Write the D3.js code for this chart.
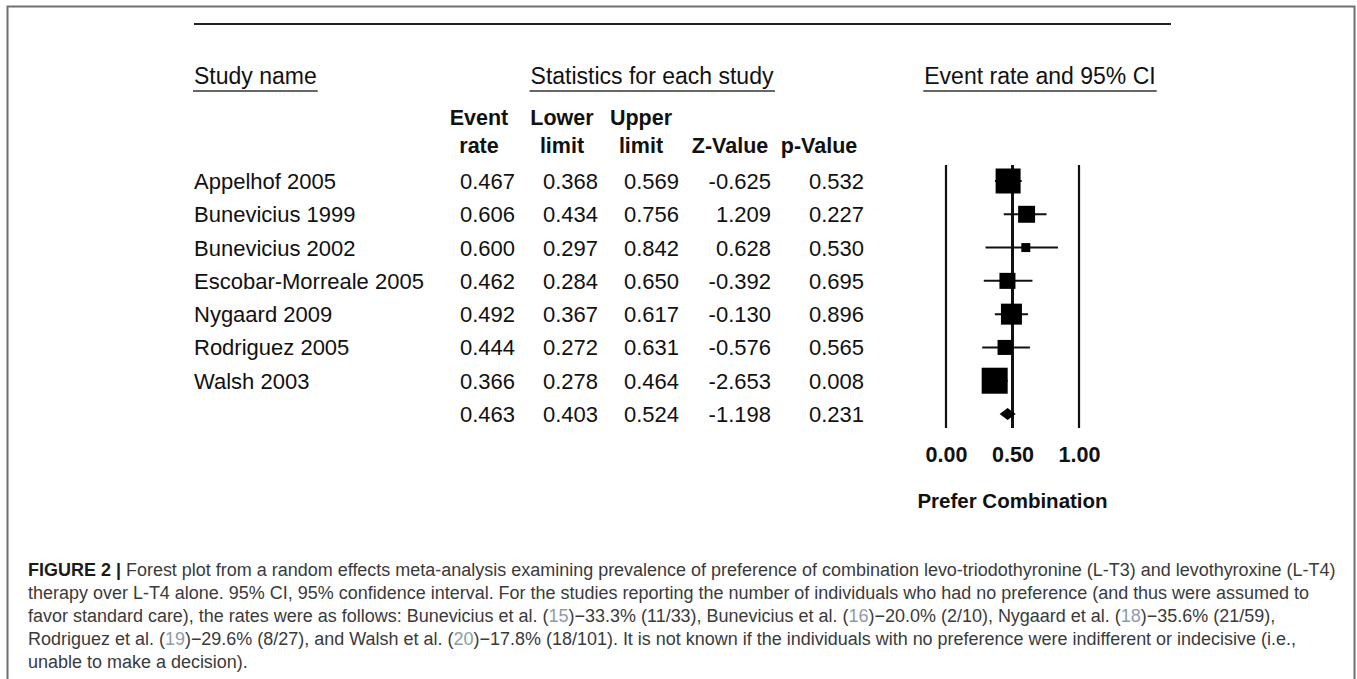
<!DOCTYPE html>
<html>
<head>
<meta charset="utf-8">
<script src="https://cdn.jsdelivr.net/npm/d3@7/dist/d3.min.js"></script>
<style>
  html, body { margin: 0; padding: 0; background: #fff; }
  svg { display: block; }
</style>
</head>
<body>
<script>
// ---- Study data ----
const studies    = ["Appelhof 2005", "Bunevicius 1999", "Bunevicius 2002", "Escobar-Morreale 2005",
                    "Nygaard 2009", "Rodriguez 2005", "Walsh 2003"];
const eventRate  = [0.467, 0.606, 0.600, 0.462, 0.492, 0.444, 0.366];
const lowerLimit = [0.368, 0.434, 0.297, 0.284, 0.367, 0.272, 0.278];
const upperLimit = [0.569, 0.756, 0.842, 0.650, 0.617, 0.631, 0.464];
const zValue     = [-0.625, 1.209, 0.628, -0.392, -0.130, -0.576, -2.653];
const pValue     = [0.532, 0.227, 0.530, 0.695, 0.896, 0.565, 0.008];
const relWeight  = [24.1, 11.1, 3.1, 9.9, 17.0, 8.7, 26.1];   // random-effects weight, %

// pooled (random effects) estimate
const pooledRate  = 0.463;
const pooledLower = 0.403;
const pooledUpper = 0.524;
const pooledZ     = -1.198;
const pooledP     = 0.231;

const axisTicks  = [0, 0.5, 1];
const axisTitle  = "Prefer Combination";

const captionLines = [
  [{t: "FIGURE 2 | ", b: true}, {t: "Forest plot from a random effects meta-analysis examining prevalence of preference of combination levo-triodothyronine (L-T3) and levothyroxine (L-T4)"}],
  [{t: "therapy over L-T4 alone. 95% CI, 95% confidence interval. For the studies reporting the number of individuals who had no preference (and thus were assumed to"}],
  [{t: "favor standard care), the rates were as follows: Bunevicius et al. ("}, {t: "15", c: true}, {t: ")\u221233.3% (11/33), Bunevicius et al. ("}, {t: "16", c: true}, {t: ")\u221220.0% (2/10), Nygaard et al. ("}, {t: "18", c: true}, {t: ")\u221235.6% (21/59),"}],
  [{t: "Rodriguez et al. ("}, {t: "19", c: true}, {t: ")\u221229.6% (8/27), and Walsh et al. ("}, {t: "20", c: true}, {t: ")\u221217.8% (18/101). It is not known if the individuals with no preference were indifferent or indecisive (i.e.,"}],
  [{t: "unable to make a decision)."}]
];

// ---- Layout ----
const W = 1357, H = 679;
const FONT = "'Liberation Sans', Arial, Helvetica, sans-serif";

const svg = d3.select("body").append("svg")
  .attr("width", W).attr("height", H)
  .style("font-family", FONT);

// figure frame (bottom edge runs off the page)
svg.append("rect")
  .attr("x", 7.5).attr("y", 6.5)
  .attr("width", 1347).attr("height", 720)
  .attr("fill", "none").attr("stroke", "#707070").attr("stroke-width", 2);

const ink = "#111";

// top rule of the table
svg.append("line")
  .attr("x1", 194).attr("x2", 1171).attr("y1", 24).attr("y2", 24)
  .attr("stroke", "#222").attr("stroke-width", 2);

// ---- scales ----
const rowKeys = studies.concat(["__pooled"]);
const y = d3.scalePoint().domain(rowKeys).range([181, 414]);
const x = d3.scaleLinear().domain([0, 1]).range([946, 1079]);
const boxSize = d3.scaleSqrt().domain([0, d3.max(relWeight)]).range([0, 26]);

// ---- group headers with underlines ----
function underlinedHeader(txt, xPos, anchor) {
  const t = svg.append("text")
    .attr("x", xPos).attr("y", 84)
    .attr("text-anchor", anchor)
    .attr("font-size", 23).attr("fill", ink)
    .text(txt);
  const bb = t.node().getBBox();
  svg.append("line")
    .attr("x1", bb.x - 1).attr("x2", bb.x + bb.width + 1)
    .attr("y1", 91).attr("y2", 91)
    .attr("stroke", "#333").attr("stroke-width", 1.3);
}
underlinedHeader("Study name", 194, "start");
underlinedHeader("Statistics for each study", 652, "middle");
underlinedHeader("Event rate and 95% CI", 1040, "middle");

// ---- column headers ----
const cols = [
  {l1: "Event", l2: "rate",   hx: 479, vx: 515, vals: eventRate,  pooled: pooledRate},
  {l1: "Lower", l2: "limit",  hx: 562, vx: 598, vals: lowerLimit, pooled: pooledLower},
  {l1: "Upper", l2: "limit",  hx: 641, vx: 679, vals: upperLimit, pooled: pooledUpper},
  {l1: "",      l2: "Z-Value", hx: 730, vx: 771, vals: zValue,    pooled: pooledZ},
  {l1: "",      l2: "p-Value", hx: 819, vx: 864, vals: pValue,    pooled: pooledP}
];

const hdr = svg.append("g")
  .attr("font-weight", "bold").attr("font-size", 21.5)
  .attr("text-anchor", "middle").attr("fill", ink);
cols.forEach(c => {
  if (c.l1) hdr.append("text").attr("x", c.hx).attr("y", 125).text(c.l1);
  hdr.append("text").attr("x", c.hx).attr("y", 153).text(c.l2);
});

// ---- table body ----
const fmt = v => v.toFixed(3);
const body = svg.append("g").attr("font-size", 22).attr("fill", ink);

body.selectAll("text.name")
  .data(studies)
  .join("text")
  .attr("class", "name")
  .attr("x", 194)
  .attr("y", d => y(d) + 8)
  .text(d => d);

cols.forEach(c => {
  const vals = c.vals.concat([c.pooled]);
  body.selectAll(null)
    .data(vals)
    .join("text")
    .attr("x", c.vx)
    .attr("y", (d, i) => y(rowKeys[i]) + 8)
    .attr("text-anchor", "end")
    .text(d => fmt(d));
});

// ---- forest plot ----
const plot = svg.append("g");

// reference lines at 0, 0.5 and 1
plot.selectAll("line.ref")
  .data(axisTicks)
  .join("line")
  .attr("class", "ref")
  .attr("x1", d => x(d)).attr("x2", d => x(d))
  .attr("y1", 165).attr("y2", 428)
  .attr("stroke", "#111")
  .attr("stroke-width", d => d === 0.5 ? 3 : 2.2);

const rows = studies.map((s, i) => ({
  name: s, rate: eventRate[i], lo: lowerLimit[i], hi: upperLimit[i], w: relWeight[i]
}));

// confidence intervals
plot.selectAll("line.ci")
  .data(rows)
  .join("line")
  .attr("class", "ci")
  .attr("x1", d => x(d.lo)).attr("x2", d => x(d.hi))
  .attr("y1", d => y(d.name)).attr("y2", d => y(d.name))
  .attr("stroke", "#111").attr("stroke-width", 2);

// weighted point estimates
plot.selectAll("rect.pt")
  .data(rows)
  .join("rect")
  .attr("class", "pt")
  .attr("x", d => x(d.rate) - boxSize(d.w) / 2)
  .attr("y", d => y(d.name) - boxSize(d.w) / 2)
  .attr("width", d => boxSize(d.w))
  .attr("height", d => boxSize(d.w))
  .attr("fill", "#000");

// pooled diamond
const py = y("__pooled");
plot.append("path")
  .attr("d", `M${x(pooledLower)},${py} L${x(pooledRate)},${py - 6} L${x(pooledUpper)},${py} L${x(pooledRate)},${py + 6} Z`)
  .attr("fill", "#000");

// x axis labels
const axis = d3.axisBottom(x)
  .tickValues(axisTicks)
  .tickFormat(d3.format(".2f"))
  .tickSize(0).tickPadding(0);
const axG = svg.append("g")
  .attr("transform", "translate(0,447)")
  .call(axis);
axG.select(".domain").remove();
axG.selectAll("text")
  .attr("font-family", FONT)
  .attr("font-size", 21.5)
  .attr("font-weight", "bold")
  .attr("fill", ink);

svg.append("text")
  .attr("x", x(0.5)).attr("y", 508)
  .attr("text-anchor", "middle")
  .attr("font-size", 20.5).attr("font-weight", "bold").attr("fill", ink)
  .text(axisTitle);

// ---- caption ----
const cap = svg.append("g")
  .style("font-family", "'Liberation Sans Narrow', 'Liberation Sans', Arial, sans-serif")
  .attr("font-size", 18);
const capTexts = captionLines.map((parts, i) => {
  const t = cap.append("text").attr("x", 0).attr("y", 576 + i * 23).attr("fill", "#3a3a3a");
  parts.forEach(p => {
    const ts = t.append("tspan").text(p.t);
    if (p.b) ts.attr("font-weight", "bold").attr("fill", "#1a1a1a");
    if (p.c) ts.attr("fill", "#8d9aab");
  });
  return t;
});
// squeeze the caption horizontally so the first line spans the frame's text width
const firstLen = capTexts[0].node().getComputedTextLength();
const sx = 1308 / firstLen;
cap.attr("transform", `translate(28,0) scale(${sx},1)`);
</script>
</body>
</html>
